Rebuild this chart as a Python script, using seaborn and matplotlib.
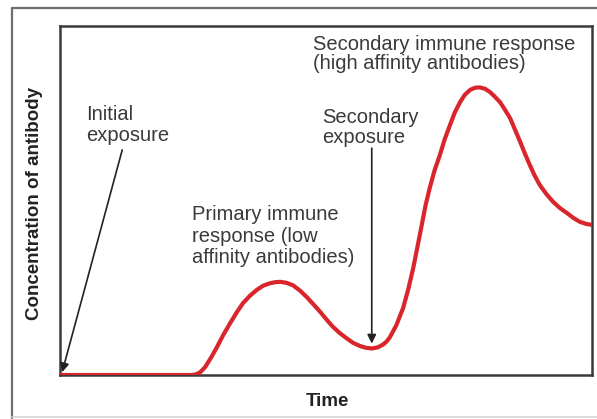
import matplotlib
matplotlib.use("Agg")
import matplotlib.pyplot as plt
from matplotlib.lines import Line2D
import seaborn as sns
import pandas as pd

# Antibody concentration over time (arbitrary units, 0-100 on both axes)
time = [0.0, 24.6, 25.4, 26.3, 27.3, 28.4, 29.5, 30.7, 32.0, 33.2, 34.4,
        35.7, 37.0, 38.2, 39.5, 40.5, 41.4, 42.6, 43.8, 45.1, 46.4, 47.6,
        48.9, 50.1, 51.3, 52.6, 53.9, 55.1, 56.4, 57.5, 58.6, 59.7, 60.7,
        61.4, 62.0, 63.2, 64.5, 65.5, 66.4, 67.2, 68.0, 68.7, 69.5, 70.4,
        71.4, 72.3, 73.3, 74.2, 75.2, 76.1, 77.1, 78.0, 78.9, 79.9, 80.8,
        81.7, 82.7, 83.6, 84.6, 85.5, 86.5, 87.4, 88.3, 89.2, 90.2, 91.4,
        92.7, 94.0, 95.3, 96.5, 97.7, 98.9, 100.0]
concentration = [0.0, 0.0, 0.1, 0.7, 2.3, 5.0, 8.0, 11.5, 14.9, 17.9, 20.6,
                 22.7, 24.4, 25.6, 26.3, 26.6, 26.7, 26.4, 25.7, 24.2, 22.3, 20.3,
                 18.1, 15.9, 13.8, 12.0, 10.5, 9.2, 8.3, 7.8, 7.6, 7.9, 8.7,
                 9.6, 10.8, 14.2, 19.2, 24.8, 30.7, 36.8, 43.0, 48.5, 53.6, 58.6,
                 63.0, 67.5, 71.6, 75.2, 78.2, 80.3, 81.7, 82.3, 82.4, 82.0, 81.1,
                 79.8, 78.2, 76.1, 73.6, 70.4, 66.8, 63.4, 60.2, 57.2, 54.4, 51.9,
                 49.6, 47.8, 46.4, 45.0, 43.9, 43.3, 43.0]

annotations = [
    "Initial\nexposure",
    "Primary immune\nresponse (low\naffinity antibodies)",
    "Secondary\nexposure",
    "Secondary immune response\n(high affinity antibodies)",
]
x_label = "Time"
y_label = "Concentration of antibody"

df = pd.DataFrame({"time": time, "concentration": concentration})

sns.set_style("white")
plt.rcParams["font.family"] = ["Liberation Sans", "DejaVu Sans"]

W, H = 597, 419
fig = plt.figure(figsize=(W / 100, H / 100), dpi=100)
fig.patch.set_facecolor("white")

# Outer frame
fig.add_artist(Line2D([12 / W, 12 / W], [1 - 8 / H, 1 - 418 / H],
                      transform=fig.transFigure, color="#6e6e6e", lw=1.6))
fig.add_artist(Line2D([12 / W, 1.0], [1 - 8 / H, 1 - 8 / H],
                      transform=fig.transFigure, color="#6e6e6e", lw=1.6))
fig.add_artist(Line2D([12 / W, 1.0], [1 - 417 / H, 1 - 417 / H],
                      transform=fig.transFigure, color="#d4d4d4", lw=1.2))

ax = fig.add_axes([60 / W, 1 - 375 / H, 532 / W, 349 / H])
sns.lineplot(data=df, x="time", y="concentration", ax=ax,
             color="#d9262c", lw=3.0, zorder=3,
             solid_joinstyle="round", solid_capstyle="round")

ax.set_xlim(0, 100)
ax.set_ylim(0, 100)
ax.set_xticks([])
ax.set_yticks([])
ax.set_xlabel("")
ax.set_ylabel("")
for side in ["left", "right", "top", "bottom"]:
    ax.spines[side].set_visible(True)
    ax.spines[side].set_color("#3a3a3a")
    ax.spines[side].set_linewidth(1.8)

txt_kw = dict(color="#3a3a3a", fontsize=14.5, ha="left", va="center")
ax.text(4.9, 71.6, annotations[0], linespacing=1.1, **txt_kw)
ax.text(24.8, 39.8, annotations[1], linespacing=1.15, **txt_kw)
ax.text(49.2, 71.0, annotations[2], linespacing=1.05, **txt_kw)
ax.text(47.6, 92.0, annotations[3], linespacing=1.0, **txt_kw)

arrow_kw = dict(arrowstyle="-|>", lw=1.2, color="#222222", mutation_scale=13,
                shrinkA=0, shrinkB=0)
ax.annotate("", xy=(0.4, 0.8), xytext=(11.7, 64.5), arrowprops=arrow_kw, zorder=4)
ax.annotate("", xy=(58.6, 9.0), xytext=(58.6, 65.0), arrowprops=arrow_kw, zorder=4)

fig.text(327 / W, 1 - 401 / H, x_label, fontsize=13.5, fontweight="bold",
         color="#222222", ha="center", va="center")
fig.text(35 / W, 1 - 203 / H, y_label, fontsize=13.5, fontweight="bold",
         color="#222222", ha="center", va="center", rotation=90)

fig.savefig("out.png", dpi=100, facecolor="white")
